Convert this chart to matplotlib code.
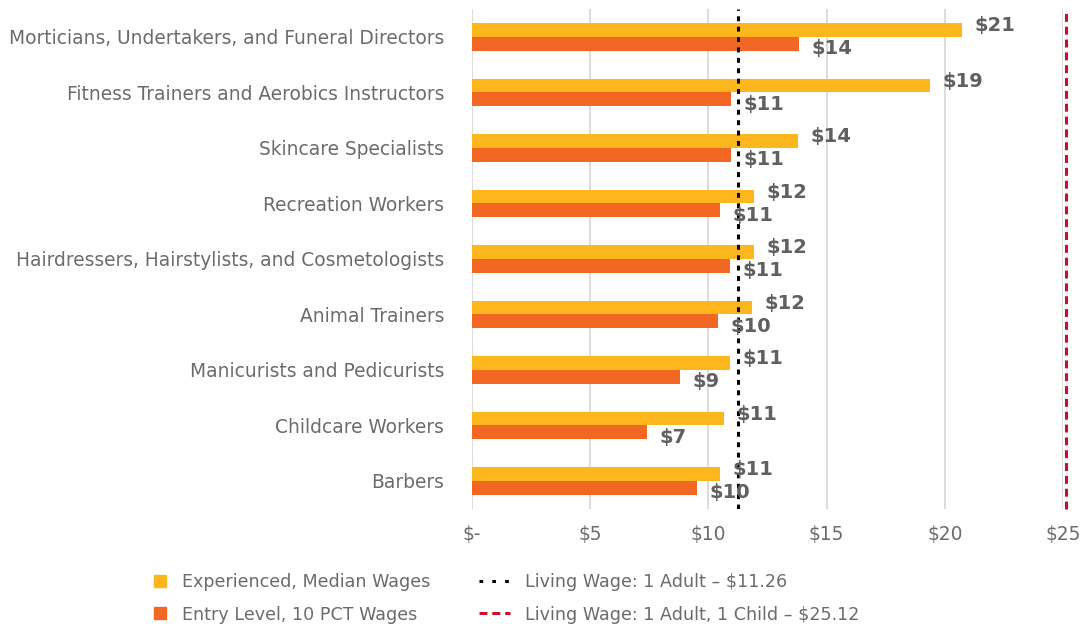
import matplotlib
matplotlib.use("Agg")
import matplotlib.pyplot as plt
from matplotlib.lines import Line2D
import numpy as np

categories = [
    "Morticians, Undertakers, and Funeral Directors",
    "Fitness Trainers and Aerobics Instructors",
    "Skincare Specialists",
    "Recreation Workers",
    "Hairdressers, Hairstylists, and Cosmetologists",
    "Animal Trainers",
    "Manicurists and Pedicurists",
    "Childcare Workers",
    "Barbers",
]
experienced_median = [20.73, 19.39, 13.80, 11.94, 11.92, 11.83, 10.90, 10.68, 10.51]
entry_level_10pct = [13.85, 10.94, 10.95, 10.51, 10.90, 10.40, 8.80, 7.39, 9.54]
living_wage_1_adult = 11.26
living_wage_1_adult_1_child = 25.12
x_ticks = [0, 5, 10, 15, 20, 25]
x_tick_labels = ["$-", "$5", "$10", "$15", "$20", "$25"]
series_names = ["Experienced, Median Wages", "Entry Level, 10 PCT Wages"]
line_names = ["Living Wage: 1 Adult \u2013 $11.26", "Living Wage: 1 Adult, 1 Child \u2013 $25.12"]

YELLOW = "#FDB71C"
ORANGE = "#F26724"
RED = "#C8102E"
GRAY = "#6B6B6B"
LABEL_GRAY = "#606060"

plt.rcParams["font.family"] = ["DejaVu Sans"]

fig = plt.figure(figsize=(10.83, 6.28), dpi=100)
ax = fig.add_axes([0.4358, 0.1899, 0.5457, 0.7954])

y = np.arange(len(categories))
h = 0.25
ax.barh(y - h / 2, experienced_median, height=h, color=YELLOW, zorder=2)
ax.barh(y + h / 2, entry_level_10pct, height=h, color=ORANGE, zorder=2)

for yi, v in zip(y, experienced_median):
    ax.annotate(f"${v:.0f}", (v, yi - h / 2), xytext=(9, 3), textcoords="offset points",
                ha="left", va="center", fontsize=14, fontweight="bold", color=LABEL_GRAY, zorder=4)
for yi, v in zip(y, entry_level_10pct):
    ax.annotate(f"${v:.0f}", (v, yi + h / 2), xytext=(9, -3.5), textcoords="offset points",
                ha="left", va="center", fontsize=14, fontweight="bold", color=LABEL_GRAY, zorder=4)

dotted = (0, (1.6, 1.8))
dashed = (0, (2.6, 1.6))
ax.axvline(living_wage_1_adult, color="black", lw=2.2, linestyle=dotted, zorder=3)
ax.axvline(living_wage_1_adult_1_child, color=RED, lw=2.2, linestyle=dashed, zorder=3, clip_on=False)

ax.set_xlim(0, 25)
ax.set_ylim(len(categories) - 0.5, -0.5)
ax.set_xticks(x_ticks)
ax.set_xticklabels(x_tick_labels)
ax.set_yticks(y)
ax.set_yticklabels(categories)
ax.tick_params(axis="both", length=0, labelsize=13.4, colors=GRAY)
ax.tick_params(axis="y", pad=20)
ax.tick_params(axis="x", pad=12)
ax.grid(axis="x", color="#D9D9D9", lw=1.3, zorder=0)
ax.set_axisbelow(True)
for s in ax.spines.values():
    s.set_visible(False)

handles1 = [Line2D([], [], marker="s", linestyle="none", markersize=8.5, color=YELLOW),
            Line2D([], [], marker="s", linestyle="none", markersize=8.5, color=ORANGE)]
handles2 = [Line2D([], [], color="black", lw=2.2, linestyle=(0, (1.2, 3.0))),
            Line2D([], [], color=RED, lw=2.2, linestyle=dashed)]
leg1 = fig.legend(handles1, series_names, loc="center left", bbox_to_anchor=(0.124, 0.0475),
                  frameon=False, fontsize=12.6, labelcolor=GRAY, handlelength=1.1,
                  handletextpad=0.75, labelspacing=0.85)
leg2 = fig.legend(handles2, line_names, loc="center left", bbox_to_anchor=(0.428, 0.0475),
                  frameon=False, fontsize=12.6, labelcolor=GRAY, handlelength=1.75,
                  handletextpad=0.85, labelspacing=0.85)

fig.savefig("out.png", dpi=100)
